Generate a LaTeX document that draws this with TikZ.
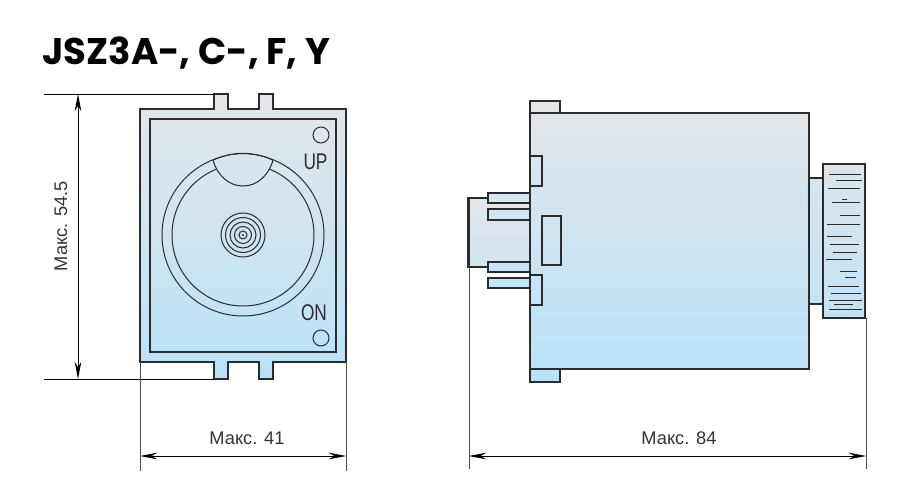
\documentclass[tikz,border=0pt]{standalone}
\usepackage{fontspec}
\setmainfont{Liberation Sans}
\newfontfamily\titlefont[Scale=1]{Poppins Bold}
\usetikzlibrary{arrows.meta}
\definecolor{gradtop}{HTML}{E4E6E9}
\definecolor{gradbot}{HTML}{B8E2FA}
\definecolor{inkline}{HTML}{2B2B2B}
\tikzset{
    heavy/.style={draw=inkline, line width=1.6pt, line join=miter},
    medium/.style={draw=inkline, line width=1.1pt},
    fine/.style={draw=inkline, line width=.75pt},
    extline/.style={draw=black!70, line width=.7pt},
    dimline/.style={draw=black, line width=.7pt, {Stealth[length=13pt,width=5pt]}-{Stealth[length=13pt,width=5pt]}},
    dimlabel/.style={font=\fontsize{13.7pt}{15pt}\selectfont, text=black!80, inner sep=0pt},
    marklabel/.style={font=\fontsize{17pt}{18pt}\selectfont, text=inkline, inner sep=0pt, xscale=.76},
    tick/.style={draw=inkline, line width=.75pt}
}
\begin{document}
\begin{tikzpicture}[x=.75pt, y=-.75pt]
    \useasboundingbox (0,0) rectangle (914,499);

    % Title

    \node[anchor=west, inner sep=0pt] (title) at (42,53) {\titlefont\fontsize{27.8pt}{30pt}\selectfont JSZ3A-, C-, F, Y};

    % Front view

    \draw[heavy, top color=gradtop, bottom color=gradbot] (140,109) -- (214,109) -- (214,94) -- (228,94) -- (228,109)
        -- (259,109) -- (259,94) -- (273,94) -- (273,109) -- (346,109) -- (346,362) -- (273,362) -- (273,379)
        -- (259,379) -- (259,362) -- (228,362) -- (228,379) -- (214,379) -- (214,362) -- (140,362) -- cycle;
    \draw[heavy] (150,119) rectangle (336,352);
    \draw[fine] (243,235) circle[radius=81];
    \draw[fine] (243,235) circle[radius=71];
    \fill[gradbot!27!gradtop] (213,161) .. controls (218,177) and (230,186) .. (243,186)
        .. controls (256,186) and (268,177) .. (273,161) .. controls (254,152) and (232,152) .. cycle;
    \draw[fine] (213,160.2) .. controls (218,177) and (230,186) .. (243,186)
        .. controls (256,186) and (268,177) .. (273,160.2);
    \draw[fine] (213,160.2) .. controls (232,151) and (254,151) .. (273,160.2);
    \foreach \ringr in {22,17.5,13,8.5,4}
        \draw[fine] (243,235) circle[radius=\ringr];
    \fill[inkline] (243,235) circle[radius=1.2];
    \draw[fine] (321,135) circle[radius=8];
    \draw[fine] (321,338) circle[radius=8];
    \node[marklabel] (up) at (315.5,162) {UP};
    \node[marklabel] (on) at (314,313) {ON};

    % Side view

    \draw[heavy, top color=gradtop, bottom color=gradbot!45!gradtop] (530,198) -- (468.5,198) -- (468.5,267) -- (530,267);
    \foreach \pintop/\pinbot/\pinfill in {193/203/D6E7F1, 209/220/D2E6F2, 262/272/C6E5F8, 278/288/C3E5F9}{
        \definecolor{pincolor}{HTML}{\pinfill}
        \draw[heavy, fill=pincolor] (530,\pintop) -- (488,\pintop) -- (488,\pinbot) -- (530,\pinbot);
    }
    \draw[medium, top color=gradbot!27!gradtop, bottom color=gradbot!72!gradtop] (809,178) rectangle (823,304);
    \draw[heavy, top color=gradtop, bottom color=gradbot] (530,101) -- (560,101) -- (560,113) -- (809,113) -- (809,369)
        -- (560,369) -- (560,382) -- (530,382) -- cycle;
    \draw[medium] (530,113) -- (560,113);
    \draw[medium] (530,369) -- (560,369);
    \fill[gradtop!27!gradbot] (807,178.8) rectangle (810.5,303.2);
    \draw[heavy] (809,113) -- (809,178) -- (823,178);
    \draw[heavy] (809,369) -- (809,304) -- (823,304);
    \draw[medium] (809,178) -- (809,304);
    \draw[medium] (530,156) -- (542,156) -- (542,186) -- (530,186);
    \draw[medium] (542,216) rectangle (561,265);
    \draw[medium] (530,275) -- (542,275) -- (542,305) -- (530,305);
    \draw[heavy, top color=gradbot!22!gradtop, bottom color=gradbot!77!gradtop] (823,164) rectangle (865,318);

    % Dial scale

    \foreach \tickl/\tickr/\ticky in {829/861/175, 836/862/181, 828/860/189, 842/847/200, 832/860/203,
        840/860/216, 827/860/225, 827/852/236, 830/859/244, 833/857/252, 826/852/259, 840/857/271,
        845/856/277, 828/859/286, 831/861/293, 829/862/300, 834/853/304, 829/862/309}
        \draw[tick] (\tickl,\ticky) -- (\tickr,\ticky);

    % Dimensions

    \coordinate (hitop) at (44,94);
    \coordinate (hitopend) at (214,94);
    \coordinate (hibot) at (44,379);
    \coordinate (hibotend) at (214,379);
    \coordinate (harrowt) at (78,94);
    \coordinate (harrowb) at (78,379);
    \draw[draw=black, line width=.7pt] (hitop) -- (hitopend);
    \draw[draw=black, line width=.7pt] (hibot) -- (hibotend);
    \draw[dimline] (harrowt) -- (harrowb);
    \node[dimlabel, rotate=90] (dimh) at (61,226) {Макс. 54.5};

    \coordinate (wfl) at (140,362);
    \coordinate (wflend) at (140,471);
    \coordinate (wfr) at (346,362);
    \coordinate (wfrend) at (346,471);
    \coordinate (wfa) at (140,456);
    \coordinate (wfb) at (346,456);
    \draw[extline] (wfl) -- (wflend);
    \draw[extline] (wfr) -- (wfrend);
    \draw[dimline] (wfa) -- (wfb);
    \node[dimlabel] (dimw) at (247,438) {Макс. 41};

    \coordinate (lsl) at (469,267);
    \coordinate (lslend) at (469,469);
    \coordinate (lsr) at (866,318);
    \coordinate (lsrend) at (866,469);
    \coordinate (lsa) at (469,456);
    \coordinate (lsb) at (866,456);
    \draw[extline] (lsl) -- (lslend);
    \draw[extline] (lsr) -- (lsrend);
    \draw[dimline] (lsa) -- (lsb);
    \node[dimlabel] (diml) at (679,438) {Макс. 84};

\end{tikzpicture}
\end{document}
